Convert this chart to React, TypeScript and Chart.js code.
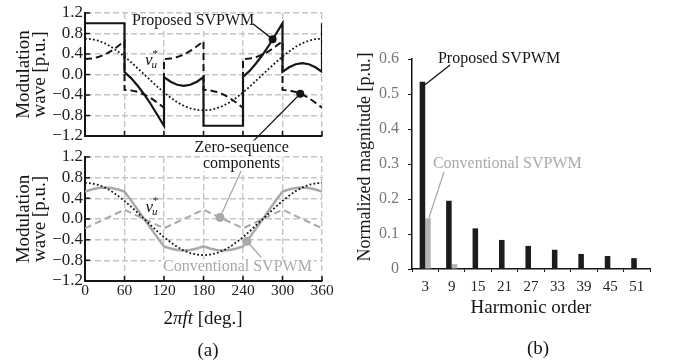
import React, { useEffect, useRef } from 'react';
import { Chart, registerables } from 'chart.js';

Chart.register(...registerables);

const SERIF = "'Liberation Serif', 'Times New Roman', Times, serif";

// ---------- (a) modulation waves (angle in degrees) ----------
const refAngles = [0, 10, 20, 30, 40, 50, 60, 70, 80, 90, 100, 110, 120, 130, 140, 150, 160, 170, 180,
  190, 200, 210, 220, 230, 240, 250, 260, 270, 280, 290, 300, 310, 320, 330, 340, 350, 360];
const refWave = [0.70, 0.69, 0.66, 0.61, 0.54, 0.45, 0.35, 0.24, 0.12, 0.00, -0.12, -0.24, -0.35, -0.45, -0.54, -0.61, -0.66, -0.69, -0.70,
  -0.69, -0.66, -0.61, -0.54, -0.45, -0.35, -0.24, -0.12, 0.00, 0.12, 0.24, 0.35, 0.45, 0.54, 0.61, 0.66, 0.69, 0.70];

const proposedAngles = [0, 60,
  60, 70, 80, 90, 100, 110, 120,
  120, 130, 140, 150, 160, 170, 180,
  180, 240,
  240, 250, 260, 270, 280, 290, 300,
  300, 310, 320, 330, 340, 350, 360,
  360];
const proposedWave = [1.00, 1.00,
  0.05, -0.07, -0.22, -0.39, -0.58, -0.79, -1.00,
  -0.05, -0.14, -0.20, -0.22, -0.20, -0.14, -0.05,
  -1.00, -1.00,
  -0.05, 0.07, 0.22, 0.39, 0.58, 0.79, 1.00,
  0.05, 0.14, 0.20, 0.22, 0.20, 0.14, 0.05,
  1.00];

const proposedZeroAngles = [0, 10, 20, 30, 40, 50, 60,
  60, 70, 80, 90, 100, 110, 120,
  120, 130, 140, 150, 160, 170, 180,
  180, 190, 200, 210, 220, 230, 240,
  240, 250, 260, 270, 280, 290, 300,
  300, 310, 320, 330, 340, 350, 360];
const proposedZero = [0.30, 0.31, 0.34, 0.39, 0.46, 0.55, 0.65,
  -0.30, -0.31, -0.34, -0.39, -0.46, -0.55, -0.65,
  0.30, 0.31, 0.34, 0.39, 0.46, 0.55, 0.65,
  -0.30, -0.31, -0.34, -0.39, -0.46, -0.55, -0.65,
  0.30, 0.31, 0.34, 0.39, 0.46, 0.55, 0.65,
  -0.30, -0.31, -0.34, -0.39, -0.46, -0.55, -0.65];

const conventionalWave = [0.53, 0.57, 0.60, 0.61, 0.60, 0.57, 0.53, 0.36, 0.18, 0.00, -0.18, -0.36, -0.53, -0.57, -0.60, -0.61, -0.60, -0.57, -0.53,
  -0.57, -0.60, -0.61, -0.60, -0.57, -0.53, -0.36, -0.18, 0.00, 0.18, 0.36, 0.53, 0.57, 0.60, 0.61, 0.60, 0.57, 0.53];

const conventionalZeroAngles = [0, 60, 120, 180, 240, 300, 360];
const conventionalZero = [-0.18, 0.18, -0.18, 0.18, -0.18, 0.18, -0.18];

// ---------- (b) harmonic spectrum ----------
const harmonicOrders = ['3', '9', '15', '21', '27', '33', '39', '45', '51'];
const proposedMagnitude = [0.535, 0.195, 0.116, 0.083, 0.066, 0.055, 0.043, 0.037, 0.031];
const conventionalMagnitude = [0.145, 0.014, 0, 0, 0, 0, 0, 0, 0];

const GRAY = '#a9a9a9';
const INK = '#151515';
const GRID = '#c6c6c6';

const pts = (xs: number[], ys: number[]) => xs.map((x, i) => ({ x, y: ys[i] }));

const fmtWave = (v: any) => {
  const n = Number(v);
  if (Math.abs(n) < 1e-9) return '0.0';
  return n.toFixed(1).replace('-', '\u2212');
};

function textLabel(ctx: CanvasRenderingContext2D, text: string, x: number, y: number,
  opts: { color?: string; size?: number; align?: 'left' | 'center'; bg?: boolean } = {}) {
  const { color = INK, size = 16, align = 'left', bg = true } = opts;
  ctx.font = `${size}px ${SERIF}`;
  const w = ctx.measureText(text).width;
  const left = align === 'center' ? x - w / 2 : x;
  if (bg) {
    ctx.fillStyle = '#fff';
    ctx.fillRect(left - 2, y - size * 0.45, w + 4, size * 0.92);
  }
  ctx.fillStyle = color;
  ctx.textAlign = 'left';
  ctx.textBaseline = 'middle';
  ctx.fillText(text, left, y);
}

function dot(ctx: CanvasRenderingContext2D, x: number, y: number, color: string, r = 4) {
  ctx.beginPath();
  ctx.fillStyle = color;
  ctx.arc(x, y, r, 0, Math.PI * 2);
  ctx.fill();
}

function leader(ctx: CanvasRenderingContext2D, x1: number, y1: number, x2: number, y2: number, color: string) {
  ctx.beginPath();
  ctx.strokeStyle = color;
  ctx.lineWidth = 1.3;
  ctx.setLineDash([]);
  ctx.moveTo(x1, y1);
  ctx.lineTo(x2, y2);
  ctx.stroke();
}

function vuStar(ctx: CanvasRenderingContext2D, x: number, y: number) {
  ctx.fillStyle = INK;
  ctx.textAlign = 'left';
  ctx.textBaseline = 'alphabetic';
  ctx.font = `italic 17px ${SERIF}`;
  ctx.fillText('v', x, y);
  const w = ctx.measureText('v').width;
  ctx.font = `italic 11px ${SERIF}`;
  ctx.fillText('u', x + w - 1, y + 3);
  ctx.font = `11px ${SERIF}`;
  ctx.fillText('*', x + w, y - 8);
}

function innerTicks(chart: any) {
  const { ctx, chartArea: a, scales } = chart;
  const x = scales.x, y = scales.y;
  ctx.save();
  ctx.strokeStyle = INK;
  ctx.lineWidth = 1.5;
  ctx.setLineDash([]);
  ctx.beginPath();
  x.ticks.forEach((t: any) => {
    const p = x.getPixelForValue(t.value);
    ctx.moveTo(p, a.bottom);
    ctx.lineTo(p, a.bottom - 5);
  });
  y.ticks.forEach((t: any) => {
    const p = y.getPixelForValue(t.value);
    ctx.moveTo(a.left, p);
    ctx.lineTo(a.left + 5, p);
  });
  ctx.stroke();
  ctx.restore();
}

function waveScales(showX: boolean, xHeight: number) {
  return {
    x: {
      type: 'linear' as const,
      min: 0, max: 360,
      ticks: { stepSize: 60, autoSkip: false, display: showX, font: { family: SERIF, size: 15.5 }, color: '#222', padding: 1, maxRotation: 0 },
      grid: { color: GRID, lineWidth: 1.4, drawTicks: false },
      border: { display: true, color: INK, width: 2, dash: [6, 3] },
      afterFit: (s: any) => { s.height = xHeight; },
    },
    y: {
      min: -1.2, max: 1.2,
      ticks: { stepSize: 0.4, autoSkip: false, font: { family: SERIF, size: 17 }, color: '#222', padding: 2, callback: fmtWave },
      grid: { color: GRID, lineWidth: 1.4, drawTicks: false },
      border: { display: true, color: INK, width: 2, dash: [6, 3] },
      title: {
        display: true,
        text: ['Modulation', 'wave [p.u.]'],
        font: { family: SERIF, size: 19, lineHeight: '16px' },
        color: INK,
        padding: { top: 16, bottom: 0 },
      },
      afterFit: (s: any) => { s.width = 85; },
    },
  };
}

export default function App() {
  const topRef = useRef<HTMLCanvasElement>(null);
  const botRef = useRef<HTMLCanvasElement>(null);
  const barRef = useRef<HTMLCanvasElement>(null);

  useEffect(() => {
    document.body.style.margin = '0';

    const topPlugin = {
      id: 'topAnno',
      afterDraw(chart: any) {
        const { ctx } = chart;
        const px = (v: number) => chart.scales.x.getPixelForValue(v);
        const py = (v: number) => chart.scales.y.getPixelForValue(v);
        innerTicks(chart);
        ctx.save();
        textLabel(ctx, 'Proposed SVPWM', px(71.5), py(1.04));
        leader(ctx, px(255), py(0.99), px(285), py(0.69), INK);
        dot(ctx, px(285), py(0.69), INK);
        leader(ctx, px(327), py(-0.375), px(255), py(-1.31), INK);
        dot(ctx, px(327), py(-0.375), INK);
        vuStar(ctx, px(91), py(0.18));
        ctx.restore();
      },
    };

    const botPlugin = {
      id: 'botAnno',
      afterDraw(chart: any) {
        const { ctx } = chart;
        const px = (v: number) => chart.scales.x.getPixelForValue(v);
        const py = (v: number) => chart.scales.y.getPixelForValue(v);
        innerTicks(chart);
        ctx.save();
        textLabel(ctx, 'Zero-sequence', px(238), py(1.38), { align: 'center' });
        textLabel(ctx, 'components', px(238), py(1.07), { align: 'center' });
        leader(ctx, px(237), py(0.93), px(205), py(0.03), GRAY);
        dot(ctx, px(205), py(0.03), GRAY, 4.5);
        textLabel(ctx, 'Conventional SVPWM', px(118.5), py(-0.93), { color: GRAY });
        leader(ctx, px(246), py(-0.43), px(267.5), py(-0.74), GRAY);
        dot(ctx, px(246), py(-0.43), GRAY, 4.5);
        vuStar(ctx, px(92), py(0.14));
        ctx.restore();
      },
    };

    const barPlugin = {
      id: 'barAnno',
      afterDraw(chart: any) {
        const { ctx, chartArea: a } = chart;
        const px = (v: number) => chart.scales.x.getPixelForValue(v);
        const py = (v: number) => chart.scales.y.getPixelForValue(v);
        ctx.save();
        textLabel(ctx, 'Proposed SVPWM', px(0.48), py(0.6), { bg: false });
        leader(ctx, px(0.94), py(0.583), px(-0.07), py(0.523), INK);
        textLabel(ctx, 'Conventional SVPWM', px(0.29), py(0.30), { color: GRAY, bg: false });
        leader(ctx, px(0.71), py(0.277), px(0.14), py(0.146), GRAY);
        // y-axis title
        ctx.translate(a.left - 47, (a.top + a.bottom) / 2 - 7);
        ctx.rotate(-Math.PI / 2);
        ctx.font = `18px ${SERIF}`;
        ctx.fillStyle = INK;
        ctx.textAlign = 'center';
        ctx.textBaseline = 'middle';
        ctx.fillText('Normalized magnitude [p.u.]', 0, 0);
        ctx.restore();
      },
    };

    const common = {
      responsive: false,
      animation: false as const,
      devicePixelRatio: 1,
      events: [] as any[],
    };

    const top = new Chart(topRef.current!, {
      type: 'line',
      data: {
        datasets: [
          { data: pts(proposedAngles, proposedWave), borderColor: INK, borderWidth: 2.2, pointRadius: 0, tension: 0 },
          { data: pts(proposedZeroAngles, proposedZero), borderColor: INK, borderWidth: 2, borderDash: [7, 4], pointRadius: 0, tension: 0 },
          { data: pts(refAngles, refWave), borderColor: INK, borderWidth: 1.8, borderDash: [1.8, 2.2], pointRadius: 0, tension: 0 },
        ],
      },
      options: {
        ...common,
        layout: { padding: { left: 0, top: 13, right: 352, bottom: 227 } },
        plugins: { legend: { display: false }, tooltip: { enabled: false } },
        scales: waveScales(false, 0) as any,
      },
      plugins: [topPlugin],
    });

    const bot = new Chart(botRef.current!, {
      type: 'line',
      data: {
        datasets: [
          { data: pts(refAngles, refWave), borderColor: INK, borderWidth: 1.8, borderDash: [1.8, 2.2], pointRadius: 0, tension: 0 },
          { data: pts(refAngles, conventionalWave), borderColor: GRAY, borderWidth: 2.5, pointRadius: 0, tension: 0 },
          { data: pts(conventionalZeroAngles, conventionalZero), borderColor: GRAY, borderWidth: 2, borderDash: [7, 4], pointRadius: 0, tension: 0 },
        ],
      },
      options: {
        ...common,
        layout: { padding: { left: 0, top: 157, right: 352, bottom: 62 } },
        plugins: { legend: { display: false }, tooltip: { enabled: false } },
        scales: waveScales(true, 20) as any,
      },
      plugins: [botPlugin],
    });

    const bars = new Chart(barRef.current!, {
      type: 'bar',
      data: {
        labels: harmonicOrders,
        datasets: [
          { data: proposedMagnitude, backgroundColor: '#1c1c1c', borderWidth: 0, categoryPercentage: 0.42, barPercentage: 1 },
          { data: conventionalMagnitude, backgroundColor: '#b4b4b4', borderWidth: 0, categoryPercentage: 0.42, barPercentage: 1 },
        ],
      },
      options: {
        ...common,
        layout: { padding: { left: 340, top: 59, right: 24, bottom: 44 } },
        plugins: { legend: { display: false }, tooltip: { enabled: false } },
        scales: {
          x: {
            grid: { drawOnChartArea: false, drawTicks: true, tickLength: 3, color: INK, offset: true },
            border: { color: INK, width: 1.5 },
            ticks: { font: { family: SERIF, size: 15 }, color: '#222', padding: 6, autoSkip: false, maxRotation: 0 },
            title: { display: true, text: 'Harmonic order', font: { family: SERIF, size: 19 }, color: INK, padding: { top: 0, bottom: 0 } },
            afterFit: (s: any) => { s.height = 50; },
          },
          y: {
            min: 0, max: 0.6,
            ticks: { stepSize: 0.1, autoSkip: false, font: { family: SERIF, size: 16 }, color: '#777', padding: 9 },
            grid: { drawOnChartArea: false, drawTicks: true, tickLength: 4, color: INK },
            border: { color: INK, width: 1.5 },
            afterFit: (s: any) => { s.width = 72; },
          },
        } as any,
      },
      plugins: [barPlugin],
    });

    return () => {
      top.destroy();
      bot.destroy();
      bars.destroy();
    };
  }, []);

  const abs: React.CSSProperties = { position: 'absolute', left: 0, top: 0 };
  const txt: React.CSSProperties = {
    position: 'absolute', fontFamily: SERIF, fontSize: 19, lineHeight: '20px',
    color: INK, textAlign: 'center', whiteSpace: 'nowrap',
  };

  return (
    <div style={{ position: 'fixed', left: 0, top: 0, width: 674, height: 363, background: '#fff', overflow: 'hidden' }}>
      <canvas ref={topRef} width={674} height={363} style={abs} />
      <canvas ref={botRef} width={674} height={363} style={abs} />
      <canvas ref={barRef} width={674} height={363} style={abs} />
      <div style={{ ...txt, left: 103, width: 200, top: 308 }}>
        2<i>πft</i> [deg.]
      </div>
      <div style={{ ...txt, left: 158, width: 100, top: 340 }}>(a)</div>
      <div style={{ ...txt, left: 488, width: 100, top: 338 }}>(b)</div>
    </div>
  );
}
